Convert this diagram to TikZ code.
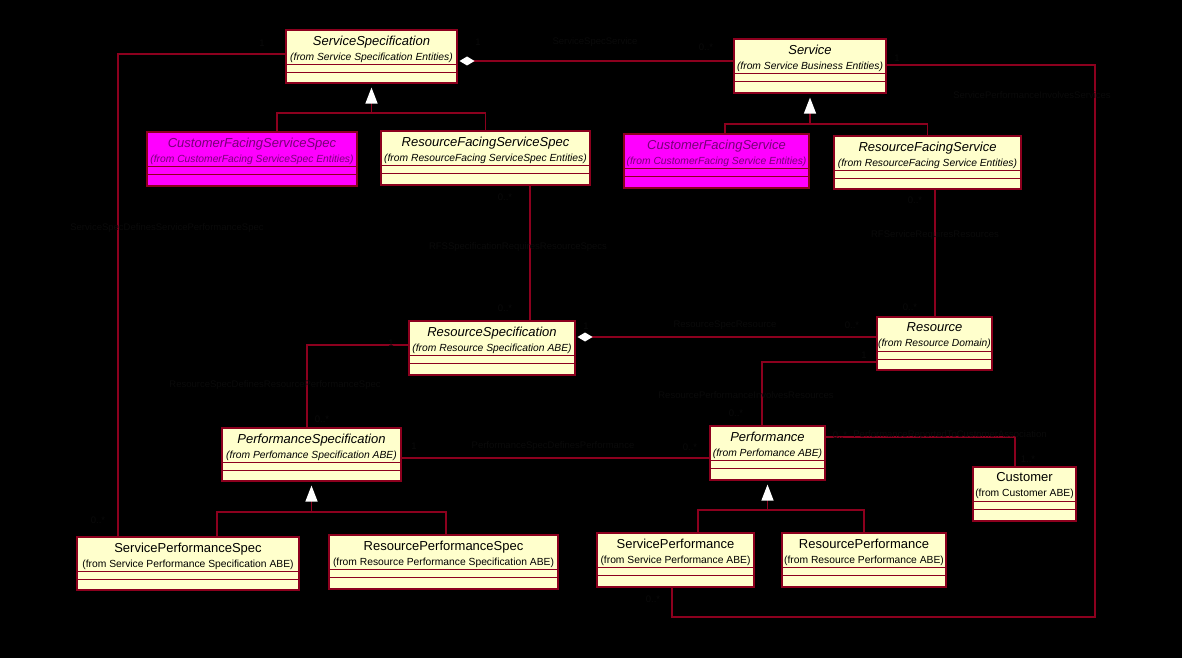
\documentclass[tikz,border=0pt]{standalone}
\usepackage{fontspec}
\setmainfont{Liberation Sans}
\usetikzlibrary{positioning,arrows.meta,fit}

\definecolor{ClassFill}{RGB}{255,255,204}
\definecolor{RoseLine}{RGB}{140,0,30}
\definecolor{CFill}{RGB}{255,0,255}
\definecolor{CText}{RGB}{120,0,120}
\definecolor{HideText}{RGB}{10,10,10}

\newcommand{\fromit}[1]{{\fontsize{10.3}{12}\selectfont\itshape (from #1)}}
\newcommand{\fromup}[1]{{\fontsize{10.3}{12}\selectfont (from #1)}}
% class box: name, left, top, right, bottom, header text
\newcommand{\classbox}[7][]{%
  \node[cls,#1,fit={(#3,#4) (#5,#6)}] (#2) {};
  \node[hdr,#1,fill=none] (#2-t) at ([yshift=-6pt]#2.north) {#7};
  \draw[cline] ([yshift=-35pt]#2.north west) -- ([yshift=-35pt]#2.north east);
  \draw[cline] ([yshift=-43pt]#2.north west) -- ([yshift=-43pt]#2.north east);
}

\begin{document}
\begin{tikzpicture}[x=1pt,y=-1pt,
  cls/.style={draw=RoseLine,line width=1.1pt,fill=ClassFill,inner sep=0pt},
  magbox/.style={fill=CFill,text=CText},
  hdr/.style={anchor=north,align=center,inner xsep=1pt,inner ysep=0pt,font=\fontsize{13}{14}\selectfont},
  cline/.style={draw=RoseLine,line width=1pt},
  rel/.style={draw=RoseLine,line width=1.2pt},
  gen/.style={-{Triangle[width=12pt,length=16pt,color=white]},shorten >=4pt},
  agg/.style={{Diamond[width=9pt,length=15pt,color=white]}-,shorten <=2pt},
  lbl/.style={text=HideText,font=\fontsize{9.5}{11}\selectfont,inner sep=1pt}]
\useasboundingbox (0,0) rectangle (1182,658);
\fill[black] (0,0) rectangle (1182,658);

% classes
\classbox{ss}{286}{30}{457}{83}{\textit{ServiceSpecification}\\[1pt]\fromit{Service Specification Entities}}
\classbox{svc}{734}{39}{886}{93}{\textit{Service}\\[1pt]\fromit{Service Business Entities}}
\classbox[magbox]{cfsspec}{147}{132}{357}{186}{\textit{CustomerFacingServiceSpec}\\[1pt]\fromit{CustomerFacing ServiceSpec Entities}}
\classbox{rfsspec}{381}{131}{590}{185}{\textit{ResourceFacingServiceSpec}\\[1pt]\fromit{ResourceFacing ServiceSpec Entities}}
\classbox[magbox]{cfs}{624}{134}{809}{188}{\textit{CustomerFacingService}\\[1pt]\fromit{CustomerFacing Service Entities}}
\classbox{rfs}{834}{136}{1021}{189}{\textit{ResourceFacingService}\\[1pt]\fromit{ResourceFacing Service Entities}}
\classbox{rspec}{409}{321}{575}{375}{\textit{ResourceSpecification}\\[1pt]\fromit{Resource Specification ABE}}
\classbox{res}{877}{317}{992}{370}{\textit{Resource}\\[1pt]\fromit{Resource Domain}}
\classbox{pspec}{222}{428}{401}{481}{\textit{PerformanceSpecification}\\[1pt]\fromit{Perfomance Specification ABE}}
\classbox{perf}{710}{426}{825}{480}{\textit{Performance}\\[1pt]\fromit{Perfomance ABE}}
\classbox{cust}{973}{467}{1076}{521}{Customer\\[1pt]\fromup{Customer ABE}}
\classbox{spspec}{77}{537}{299}{590}{ServicePerformanceSpec\\[1pt]\fromup{Service Performance Specification ABE}}
\classbox{rpspec}{329}{535}{558}{589}{ResourcePerformanceSpec\\[1pt]\fromup{Resource Performance Specification ABE}}
\classbox{sperf}{597}{533}{754}{587}{ServicePerformance\\[1pt]\fromup{Service Performance ABE}}
\classbox{rperf}{782}{533}{946}{587}{ResourcePerformance\\[1pt]\fromup{Resource Performance ABE}}

% generalizations
\coordinate (g1) at (371.5,113);
\draw[rel] ([xshift=25pt]cfsspec.north) |- (g1);
\draw[rel] (rfsspec.north) |- (g1);
\draw[rel,gen] (g1) -- (ss.south);
\coordinate (g2) at (810,124);
\draw[rel] ([xshift=8.5pt]cfs.north) |- (g2);
\draw[rel] (rfs.north) |- (g2);
\draw[rel,gen] (g2) -- (svc.south);
\coordinate (g3) at (311.5,512);
\draw[rel] ([xshift=29pt]spspec.north) |- (g3);
\draw[rel] ([xshift=2.5pt]rpspec.north) |- (g3);
\draw[rel,gen] (g3) -- (pspec.south);
\coordinate (g4) at (767.5,510);
\draw[rel] ([xshift=22.5pt]sperf.north) |- (g4);
\draw[rel] (rperf.north) |- (g4);
\draw[rel,gen] (g4) -- (perf.south);

% associations
\coordinate (a1) at ([yshift=-4.5pt]ss.east);
\draw[rel,agg] (a1) -- (a1 -| svc.west);
\draw[rel] ([yshift=2.5pt]ss.west) -| ([xshift=-70pt]spspec.north);
\coordinate (c1) at (1095,617);
\draw[rel] ([yshift=1pt]svc.east) -- ([yshift=1pt]svc.east -| c1) -- (c1) -| ([xshift=-3.5pt]sperf.south);
\coordinate (d1) at ([xshift=44.5pt]rfsspec.south);
\draw[rel] (d1) -- (d1 |- rspec.north);
\coordinate (e1) at ([xshift=7.5pt]rfs.south);
\draw[rel] (e1) -- (e1 |- res.north);
\coordinate (f1) at ([yshift=11pt]rspec.east);
\draw[rel,agg] (f1) -- (f1 -| res.west);
\draw[rel] ([yshift=3pt]rspec.west) -| ([xshift=-4.5pt]pspec.north);
\draw[rel] ([yshift=-18.5pt]res.west) -| ([xshift=-5.5pt]perf.north);
\coordinate (i1) at ([yshift=-3.5pt]pspec.east);
\draw[rel] (i1) -- (i1 -| perf.west);
\draw[rel] ([yshift=16pt]perf.east) -| ([xshift=-9.5pt]cust.north);

% association names
\node[lbl] (n-a) at (595,42) {ServiceSpecService};
\node[lbl] (n-b) at (167,228) {ServiceSpecDefinesServicePerformanceSpec};
\node[lbl] (n-c) at (1032,95) {ServicePerformanceInvolvesServices};
\node[lbl] (n-d) at (518,247) {RFSSpecificationRequiresResourceSpecs};
\node[lbl] (n-e) at (935,235) {RFServiceRequiresResources};
\node[lbl] (n-f) at (725,325) {ResourceSpecResource};
\node[lbl] (n-g) at (275,385) {ResourceSpecDefinesResourcePerformanceSpec};
\node[lbl] (n-h) at (746,395) {ResourcePerformanceInvolvesResources};
\node[lbl] (n-i) at (553,446) {PerformanceSpecDefinesPerformance};
\node[lbl] (n-j) at (950,435) {PerformanceReportedToCustomerAssociation};

% multiplicities
\node[lbl] (m-a1) at (478,42) {1};
\node[lbl] (m-a2) at (706,47) {0..*};
\node[lbl] (m-b1) at (262,43) {1};
\node[lbl] (m-b2) at (98,520) {0..*};
\node[lbl] (m-c1) at (897,58) {1};
\node[lbl] (m-c2) at (653,599) {0..*};
\node[lbl] (m-d1) at (505,197) {0..*};
\node[lbl] (m-d2) at (505,308) {0..*};
\node[lbl] (m-e1) at (915,200) {0..*};
\node[lbl] (m-e2) at (910,307) {0..*};
\node[lbl] (m-f1) at (586,326) {1};
\node[lbl] (m-f2) at (852,325) {0..*};
\node[lbl] (m-g1) at (391,343) {1};
\node[lbl] (m-g2) at (322,419) {0..*};
\node[lbl] (m-h1) at (864,355) {1};
\node[lbl] (m-h2) at (736,413) {0..*};
\node[lbl] (m-i1) at (414,446) {1};
\node[lbl] (m-i2) at (690,447) {0..*};
\node[lbl] (m-j1) at (840,435) {0..*};
\node[lbl] (m-j2) at (1028,459) {1..*};
\end{tikzpicture}
\end{document}
